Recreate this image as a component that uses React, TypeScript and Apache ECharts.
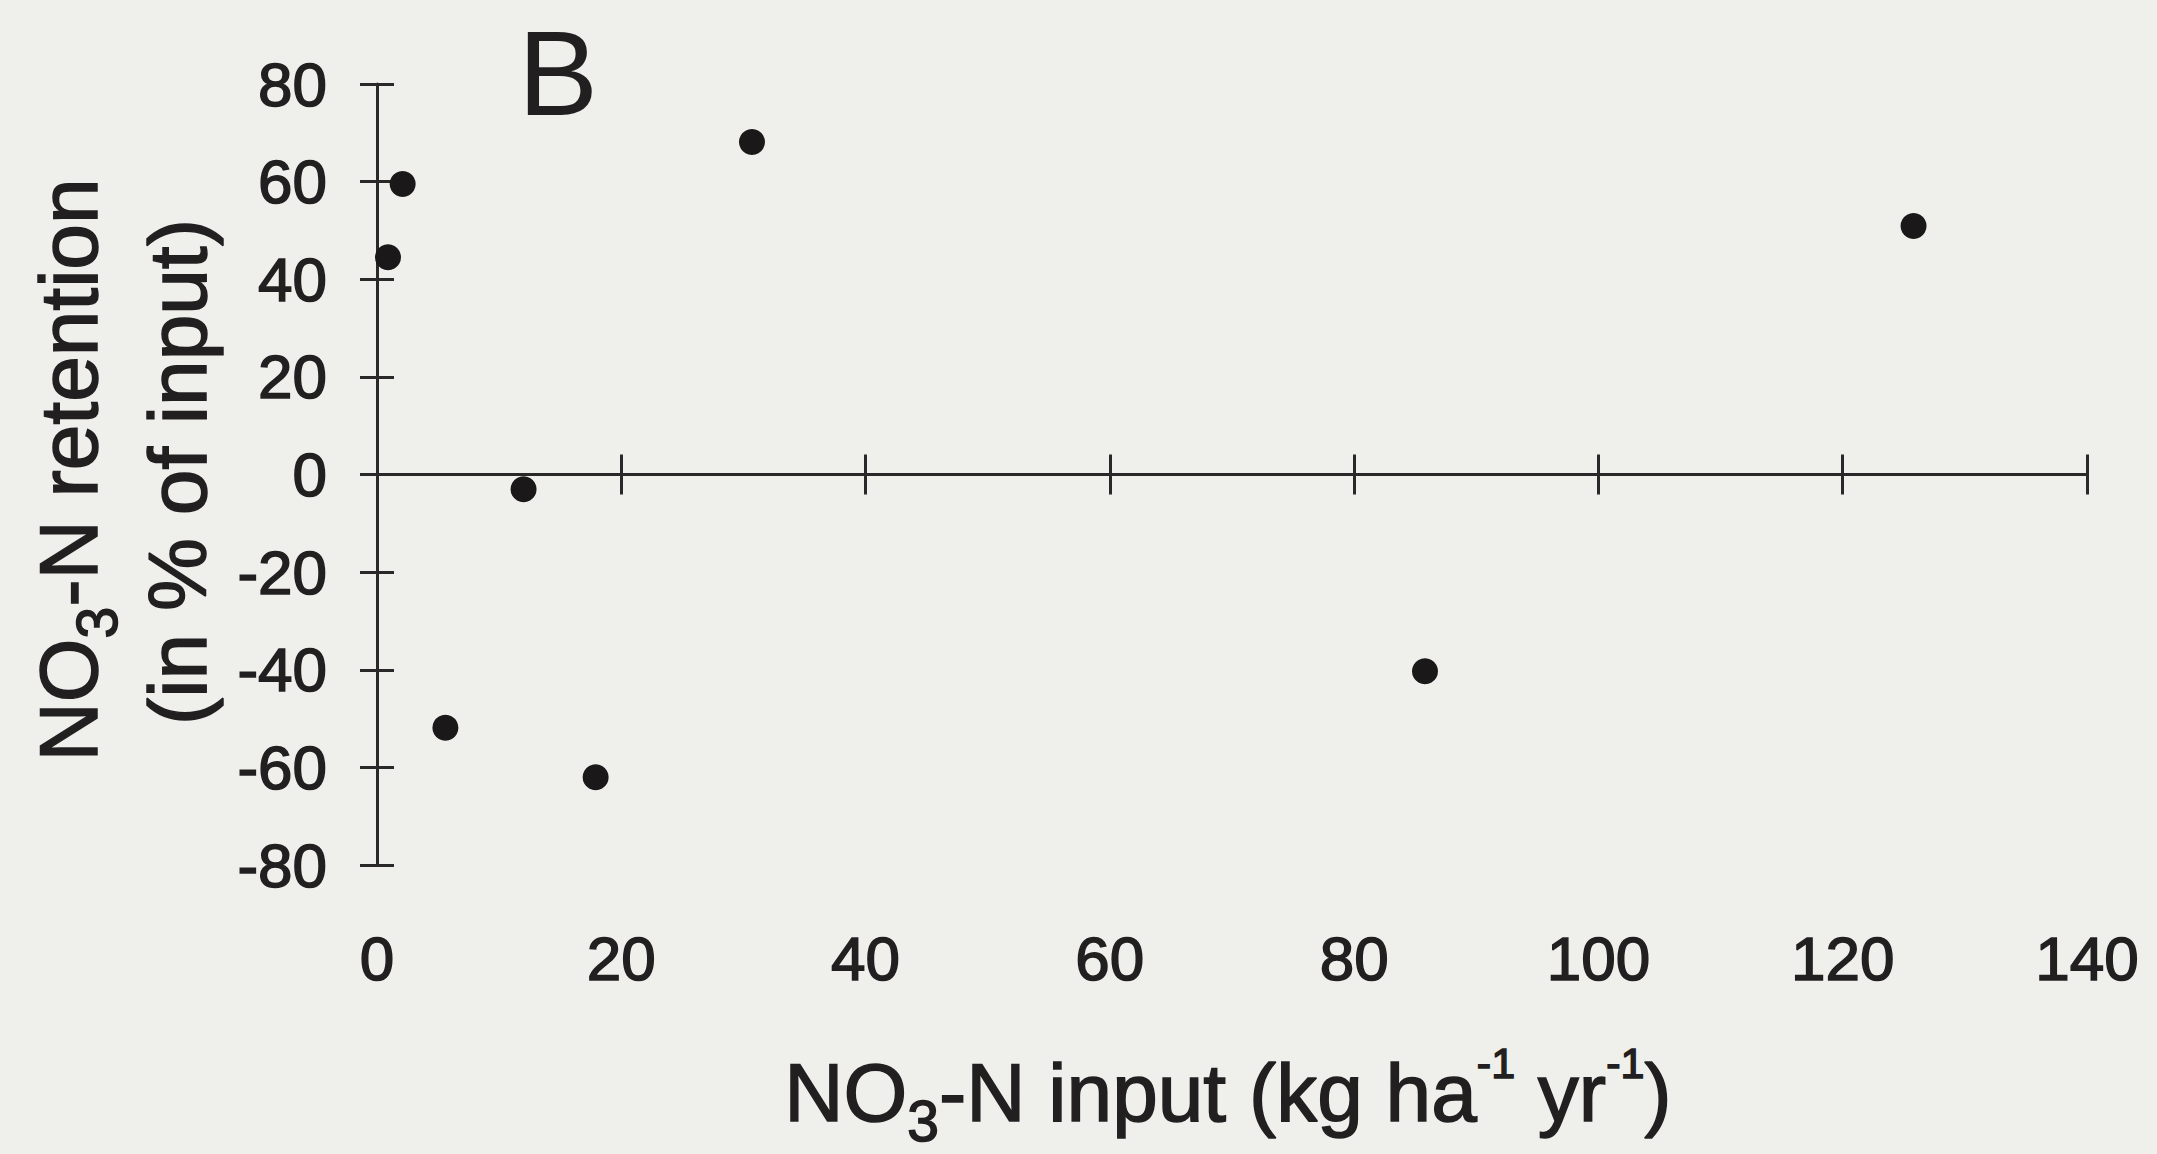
import React, { useEffect, useRef } from "react";
import * as echarts from "echarts";

// NO3-N input (kg ha-1 yr-1) and NO3-N retention (% of input) per site
const inputKg = [0.9, 2.1, 5.6, 12.0, 17.9, 30.7, 85.8, 125.8];
const retentionPct = [44.5, 59.5, -51.9, -3.0, -62.0, 68.1, -40.3, 50.9];

const xRange = { min: 0, max: 140, step: 20 };
const yRange = { min: -80, max: 80, step: 20 };

const panelLetter = "B";
const yTitleLine1 = ["NO", "3", "-N retention"];
const yTitleLine2 = "(in % of input)";
const xTitleParts = ["NO", "3", "-N input (kg ha", "-1", " yr", "-1", ")"];

const INK = "#221f20";
const PAPER = "#efefeb";
const FONT = "'Liberation Sans', Arial, Helvetica, sans-serif";

const TITLE_SIZE = 82;
const TICK_SIZE = 62;

// zrender text styles for the titles: main text, subscript (dropped) and superscript (raised)
const inked = { fontFamily: FONT, fill: INK, stroke: INK, lineWidth: 1.5 };
const richTitle = {
  m: { ...inked, fontSize: TITLE_SIZE, verticalAlign: "top", padding: [10, 0, 0, 0] },
  sub: { ...inked, fontSize: 57, verticalAlign: "top", padding: [51, 0, 0, 0] },
  sup: { ...inked, fontSize: 43, verticalAlign: "top", padding: [0, 0, 0, 0] },
};

const App: React.FC = () => {
  const ref = useRef<HTMLDivElement>(null);

  useEffect(() => {
    if (!ref.current) return;
    const chart = echarts.init(ref.current, undefined, { renderer: "svg" });

    const axisLineStyle = { color: "#2a2828", width: 3 };
    const data = inputKg.map((x, i) => [x, retentionPct[i]]);

    const xTitleRich =
      `{m|${xTitleParts[0]}}{sub|${xTitleParts[1]}}{m|${xTitleParts[2]}}` +
      `{sup|${xTitleParts[3]}}{m|${xTitleParts[4]}}{sup|${xTitleParts[5]}}{m|${xTitleParts[6]}}`;
    const yTitleRich = `{m|${yTitleLine1[0]}}{sub|${yTitleLine1[1]}}{m|${yTitleLine1[2]}}`;

    const tickLabel = {
      show: true,
      fontSize: TICK_SIZE,
      color: INK,
      fontFamily: FONT,
      textBorderColor: INK,
      textBorderWidth: 1.5,
    };

    chart.setOption({
      animation: false,
      backgroundColor: PAPER,
      textStyle: { fontFamily: FONT },
      grid: [
        { left: 377, right: 70, top: 84, bottom: 289 },
        { left: 377, right: 70, top: 84, bottom: 289 },
      ],
      xAxis: [
        {
          gridIndex: 0,
          type: "value",
          min: xRange.min,
          max: xRange.max,
          interval: xRange.step,
          position: "bottom",
          axisLine: { show: true, onZero: true, onZeroAxisIndex: 0, lineStyle: axisLineStyle },
          axisTick: { show: true, length: 20, lineStyle: axisLineStyle },
          axisLabel: { show: false },
          splitLine: { show: false },
        },
        {
          gridIndex: 0,
          type: "value",
          min: xRange.min,
          max: xRange.max,
          interval: xRange.step,
          position: "top",
          axisLine: { show: true, onZero: true, onZeroAxisIndex: 0, lineStyle: axisLineStyle },
          axisTick: { show: true, length: 20, lineStyle: axisLineStyle },
          axisLabel: { show: false },
          splitLine: { show: false },
        },
        {
          gridIndex: 1,
          type: "value",
          min: xRange.min,
          max: xRange.max,
          interval: xRange.step,
          position: "bottom",
          axisLine: { show: false, onZero: false },
          axisTick: { show: false },
          axisLabel: { ...tickLabel, margin: 62 },
          splitLine: { show: false },
        },
      ],
      yAxis: [
        {
          gridIndex: 0,
          type: "value",
          min: yRange.min,
          max: yRange.max,
          interval: yRange.step,
          position: "left",
          axisLine: { show: true, onZero: true, onZeroAxisIndex: 0, lineStyle: axisLineStyle },
          axisTick: { show: true, length: 17, lineStyle: axisLineStyle },
          axisLabel: { ...tickLabel, margin: 50 },
          splitLine: { show: false },
        },
        {
          gridIndex: 0,
          type: "value",
          min: yRange.min,
          max: yRange.max,
          interval: yRange.step,
          position: "right",
          axisLine: { show: false, onZero: true, onZeroAxisIndex: 0 },
          axisTick: { show: true, length: 17, lineStyle: axisLineStyle },
          axisLabel: { show: false },
          splitLine: { show: false },
        },
        {
          gridIndex: 1,
          type: "value",
          min: yRange.min,
          max: yRange.max,
          show: false,
        },
      ],
      series: [
        {
          type: "scatter",
          xAxisIndex: 0,
          yAxisIndex: 0,
          data,
          symbol: "circle",
          symbolSize: 26,
          itemStyle: { color: "#1a1818", opacity: 1 },
          emphasis: { disabled: true },
          z: 5,
        },
      ],
      graphic: [
        {
          type: "text",
          x: 518,
          y: 73,
          style: {
            text: panelLetter,
            fontSize: 120,
            lineHeight: 100,
            fontFamily: FONT,
            fill: INK,
            align: "left",
            verticalAlign: "middle",
          },
        },
        {
          type: "text",
          x: 1228,
          y: 1095,
          style: {
            text: xTitleRich,
            rich: richTitle,
            align: "center",
            verticalAlign: "middle",
          },
        },
        {
          type: "text",
          x: 71,
          y: 470,
          rotation: Math.PI / 2,
          style: {
            text: yTitleRich,
            rich: richTitle,
            align: "center",
            verticalAlign: "middle",
          },
        },
        {
          type: "text",
          x: 177,
          y: 472,
          rotation: Math.PI / 2,
          style: {
            ...inked,
            text: yTitleLine2,
            fontSize: TITLE_SIZE,
            align: "center",
            verticalAlign: "middle",
          },
        },
      ],
    });

    return () => chart.dispose();
  }, []);

  return (
    <div
      ref={ref}
      style={{ position: "absolute", left: 0, top: 0, width: 2157, height: 1154 }}
    />
  );
};

export default App;
